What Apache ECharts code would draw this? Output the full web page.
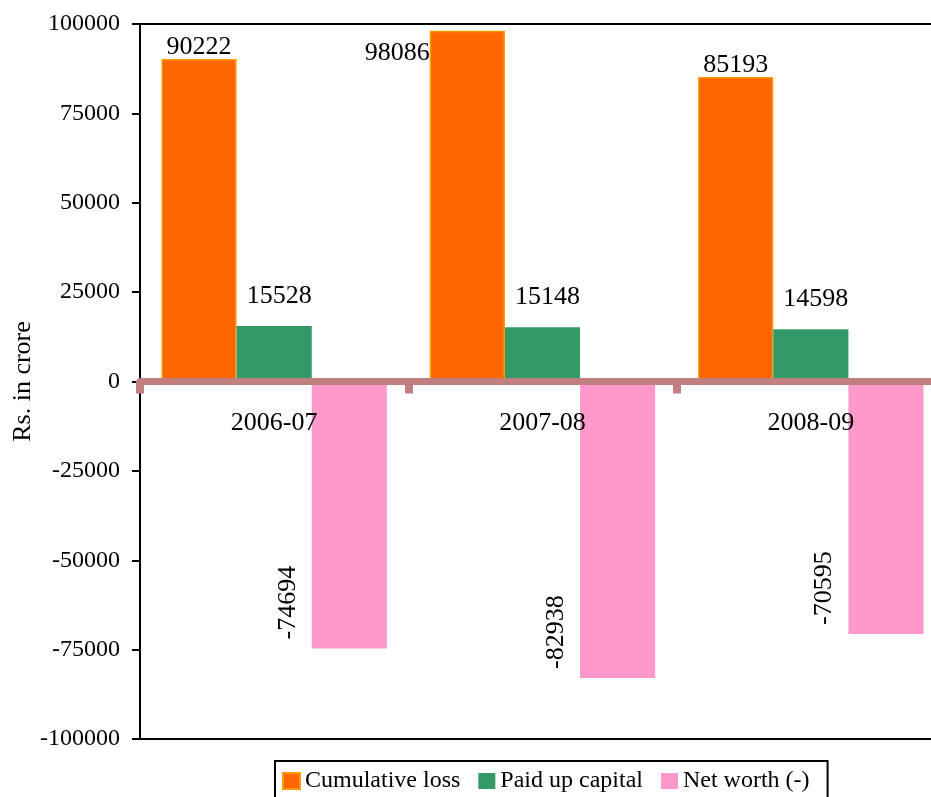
<!DOCTYPE html>
<html>
<head>
<meta charset="utf-8">
<script src="https://cdn.jsdelivr.net/npm/echarts@6/dist/echarts.min.js"></script>
<style>
  html, body { margin: 0; padding: 0; background: #fff; }
  #chart { width: 931px; height: 797px; }
</style>
</head>
<body>
<div id="chart"></div>
<script>
// Financial position by year (Rs. in crore)
const years = ['2006-07', '2007-08', '2008-09'];
const cumulativeLoss = [90222, 98086, 85193];
const paidUpCapital = [15528, 15148, 14598];
const netWorth = [-74694, -82938, -70595];
const yTicks = { min: -100000, max: 100000, step: 25000 };

const FONT = '"Liberation Serif", "Times New Roman", serif';
const AXIS_BAND = '#c17f7f';

const GRID_TOP = 24;
const GRID_BOTTOM = 58;
const CHART_H = 797;

const chart = echarts.init(document.getElementById('chart'), null, { renderer: 'canvas' });

// Distance from the bottom of the plot up to the zero line, so the
// category axis (line, ticks and labels) sits on zero.
const plotH = CHART_H - GRID_TOP - GRID_BOTTOM;
const zeroLift = plotH * (0 - yTicks.min) / (yTicks.max - yTicks.min);

// The tallest loss bar carries its label on its left side
const lossData = cumulativeLoss.map((v, i) => i === 1 ? {
  value: v,
  label: { position: [0, 22], align: 'right', verticalAlign: 'middle' }
} : v);

const option = {
  animation: false,
  backgroundColor: '#fff',
  textStyle: { fontFamily: FONT, color: '#000' },
  grid: {
    left: 140, top: GRID_TOP, bottom: GRID_BOTTOM, right: -14,
    outerBoundsMode: 'none',
    containLabel: false,
    show: true, borderColor: '#000', borderWidth: 2, backgroundColor: 'transparent'
  },
  legend: {
    left: 275, top: 761,
    orient: 'horizontal',
    padding: [8, 18, 14, 7],
    itemGap: 18, itemWidth: 17, itemHeight: 16,
    borderColor: '#000', borderWidth: 2, borderRadius: 0,
    backgroundColor: '#fff',
    icon: 'rect',
    textStyle: { fontFamily: FONT, fontSize: 24, color: '#000', padding: [0, 0, 0, 0] },
    data: ['Cumulative loss', 'Paid up capital', 'Net worth (-)']
  },
  xAxis: {
    type: 'category',
    data: years,
    z: 5,
    position: 'bottom',
    offset: -zeroLift,
    axisLine: { onZero: false, lineStyle: { color: AXIS_BAND, width: 7 } },
    axisTick: { show: true, length: 12, lineStyle: { color: AXIS_BAND, width: 8 } },
    axisLabel: { fontFamily: FONT, fontSize: 26, color: '#000', margin: 29 },
    splitLine: { show: false }
  },
  yAxis: {
    type: 'value',
    min: yTicks.min, max: yTicks.max, interval: yTicks.step,
    name: 'Rs. in crore',
    nameLocation: 'middle',
    nameGap: 104,
    nameMoveOverlap: false,
    nameTextStyle: { fontFamily: FONT, fontSize: 26, color: '#000' },
    axisLine: { show: true, onZero: false, lineStyle: { color: '#000', width: 2 } },
    axisTick: { show: true, inside: false, length: 8, lineStyle: { color: '#000', width: 2 } },
    axisLabel: {
      fontFamily: FONT, fontSize: 24, color: '#000', margin: 20,
      formatter: (v) => String(v)
    },
    splitLine: { show: false }
  },
  series: [
    {
      name: 'Cumulative loss',
      type: 'bar',
      data: lossData,
      barGap: '0%',
      barCategoryGap: '16%',
      itemStyle: { color: '#ff6600', borderColor: '#ff9900', borderWidth: 1.5 },
      label: {
        show: true, position: 'top', distance: -1,
        fontFamily: FONT, fontSize: 26, color: '#000'
      }
    },
    {
      name: 'Paid up capital',
      type: 'bar',
      data: paidUpCapital,
      itemStyle: { color: '#339966' },
      label: {
        show: true, position: 'top', distance: 17, offset: [5, 0],
        fontFamily: FONT, fontSize: 26, color: '#000'
      }
    },
    {
      name: 'Net worth (-)',
      type: 'bar',
      data: netWorth,
      itemStyle: { color: '#ff99cc' },
      label: {
        show: true, position: ['0%', '100%'], rotate: 90,
        align: 'left', verticalAlign: 'bottom', offset: [9, -11],
        fontFamily: FONT, fontSize: 26, color: '#000'
      }
    }
  ]
};

chart.setOption(option);
</script>
</body>
</html>
